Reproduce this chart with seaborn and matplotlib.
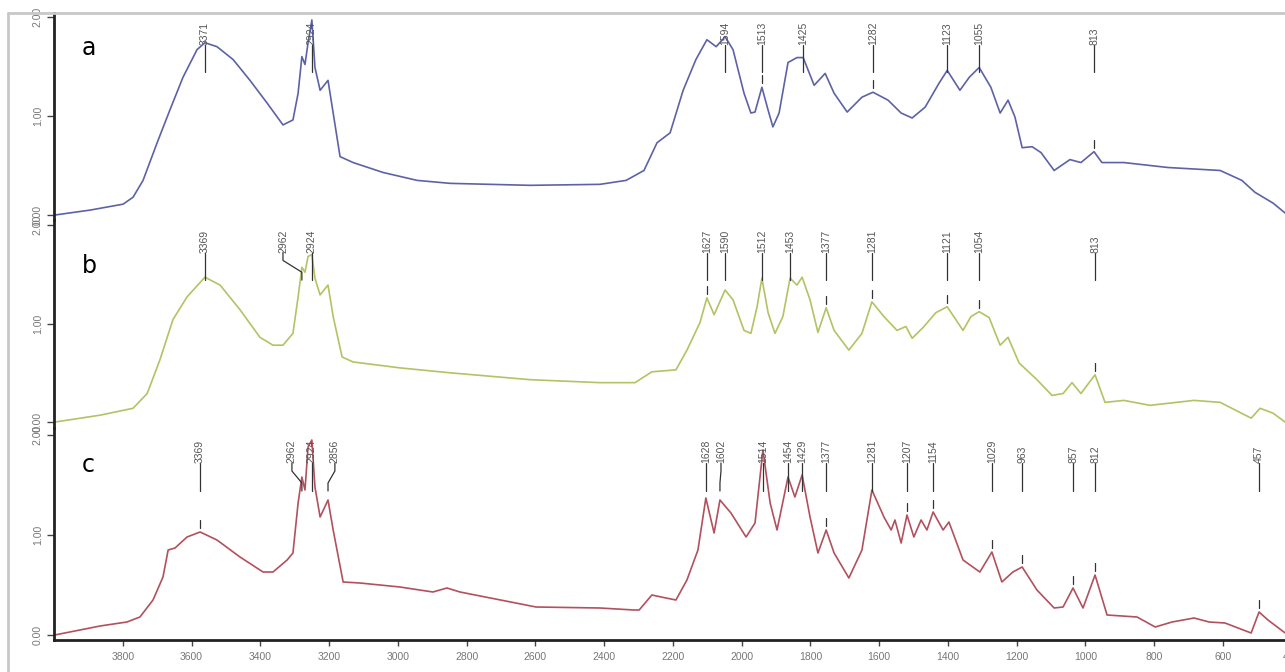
import matplotlib
matplotlib.use("Agg")
import matplotlib.pyplot as plt
import seaborn as sns
from matplotlib.lines import Line2D

# ---------------- data ----------------
a_wn = [3998, 3895, 3799, 3770, 3741, 3700, 3663, 3625, 3584, 3561, 3526, 3479, 3430, 3380, 3334,
        3305, 3290, 3279, 3270, 3261, 3250, 3241, 3226, 3203, 3188, 3168, 3130, 3043, 2944, 2848,
        2615, 2412, 2336, 2284, 2246, 2208, 2170, 2133, 2101, 2074, 2048, 2025, 1993, 1973, 1961,
        1941, 1923, 1909, 1891, 1865, 1839, 1821, 1789, 1757, 1731, 1693, 1650, 1618, 1574, 1536,
        1504, 1466, 1426, 1402, 1365, 1338, 1309, 1275, 1248, 1225, 1205, 1184, 1155, 1129, 1091,
        1045, 1013, 975, 952, 888, 760, 608, 545, 507, 454, 419]
a_abs = [0.00, 0.05, 0.11, 0.18, 0.35, 0.73, 1.06, 1.39, 1.67, 1.74, 1.70, 1.57, 1.36, 1.13, 0.91,
         0.96, 1.23, 1.60, 1.52, 1.74, 1.97, 1.49, 1.26, 1.36, 1.03, 0.59, 0.53, 0.43, 0.35, 0.32,
         0.30, 0.31, 0.35, 0.45, 0.73, 0.83, 1.26, 1.57, 1.77, 1.70, 1.80, 1.67, 1.23, 1.03, 1.04,
         1.29, 1.06, 0.89, 1.03, 1.54, 1.59, 1.59, 1.31, 1.43, 1.23, 1.04, 1.19, 1.24, 1.16, 1.03,
         0.98, 1.09, 1.33, 1.46, 1.26, 1.39, 1.49, 1.29, 1.03, 1.16, 0.99, 0.68, 0.69, 0.63, 0.45,
         0.56, 0.53, 0.64, 0.53, 0.53, 0.48, 0.45, 0.35, 0.23, 0.12, 0.02]

b_wn = [3998, 3866, 3770, 3729, 3692, 3654, 3613, 3561, 3517, 3459, 3401, 3363, 3334, 3305, 3290,
        3279, 3270, 3261, 3250, 3241, 3226, 3203, 3188, 3162, 3130, 2994, 2848, 2615, 2412, 2310,
        2261, 2191, 2159, 2121, 2101, 2080, 2048, 2025, 1993, 1973, 1955, 1941, 1923, 1903, 1880,
        1859, 1839, 1824, 1801, 1778, 1754, 1731, 1688, 1650, 1621, 1586, 1548, 1522, 1504, 1472,
        1435, 1402, 1356, 1333, 1309, 1280, 1248, 1225, 1193, 1141, 1097, 1065, 1039, 1013, 972,
        943, 888, 812, 684, 608, 518, 492, 454, 419]
b_abs = [0.00, 0.07, 0.14, 0.29, 0.63, 1.04, 1.27, 1.47, 1.39, 1.14, 0.86, 0.78, 0.78, 0.90, 1.27,
         1.57, 1.52, 1.68, 1.70, 1.46, 1.29, 1.39, 1.07, 0.66, 0.61, 0.55, 0.50, 0.43, 0.40, 0.40,
         0.51, 0.53, 0.73, 1.01, 1.26, 1.09, 1.34, 1.24, 0.93, 0.90, 1.17, 1.46, 1.11, 0.90, 1.07,
         1.46, 1.39, 1.47, 1.24, 0.91, 1.16, 0.93, 0.73, 0.90, 1.22, 1.07, 0.93, 0.97, 0.85, 0.96,
         1.11, 1.17, 0.93, 1.07, 1.12, 1.06, 0.78, 0.86, 0.60, 0.43, 0.27, 0.29, 0.40, 0.29, 0.48,
         0.20, 0.22, 0.17, 0.22, 0.20, 0.04, 0.14, 0.09, 0.00]

c_wn = [3998, 3866, 3788, 3750, 3712, 3683, 3668, 3648, 3613, 3575, 3526, 3459, 3392, 3363, 3322,
        3305, 3290, 3279, 3270, 3261, 3250, 3241, 3226, 3203, 3188, 3159, 3110, 2994, 2898, 2857,
        2819, 2598, 2412, 2313, 2298, 2261, 2220, 2191, 2159, 2127, 2104, 2080, 2063, 2031, 1987,
        1961, 1938, 1917, 1897, 1865, 1845, 1824, 1801, 1778, 1754, 1731, 1688, 1650, 1621, 1586,
        1565, 1554, 1536, 1519, 1499, 1478, 1461, 1443, 1414, 1397, 1356, 1307, 1272, 1243, 1211,
        1184, 1141, 1091, 1065, 1036, 1007, 972, 937, 850, 797, 748, 684, 640, 594, 518, 495, 469, 419]
c_abs = [0.00, 0.09, 0.13, 0.18, 0.35, 0.58, 0.85, 0.87, 0.98, 1.03, 0.95, 0.78, 0.63, 0.63, 0.75,
         0.82, 1.32, 1.58, 1.45, 1.88, 1.95, 1.48, 1.18, 1.35, 1.05, 0.53, 0.52, 0.48, 0.43, 0.47,
         0.43, 0.28, 0.27, 0.25, 0.25, 0.40, 0.37, 0.35, 0.55, 0.85, 1.37, 1.02, 1.35, 1.22, 0.98,
         1.12, 1.85, 1.32, 1.05, 1.58, 1.38, 1.60, 1.18, 0.82, 1.05, 0.82, 0.57, 0.85, 1.45, 1.18,
         1.05, 1.15, 0.92, 1.20, 0.98, 1.15, 1.05, 1.23, 1.05, 1.13, 0.75, 0.63, 0.83, 0.53, 0.63,
         0.68, 0.45, 0.27, 0.28, 0.47, 0.27, 0.60, 0.20, 0.18, 0.08, 0.13, 0.17, 0.13, 0.12, 0.02,
         0.23, 0.15, 0.02]

# peak annotations: text, text position, peak position, peak height
a_peak_text = ["3371", "2924", "1594", "1513", "1425", "1282", "1123", "1055", "813"]
a_peak_text_wn = [3561, 3250, 2048, 1941, 1821, 1618, 1402, 1309, 975]
a_peak_wn = [3561, 3250, 2048, 1941, 1821, 1618, 1402, 1309, 975]
a_peak_abs = [1.74, 1.97, 1.80, 1.29, 1.59, 1.24, 1.46, 1.49, 0.64]

b_peak_text = ["3369", "2962", "2924", "1627", "1590", "1512", "1453", "1377", "1281", "1121", "1054", "813"]
b_peak_text_wn = [3561, 3334, 3250, 2101, 2048, 1941, 1859, 1754, 1621, 1402, 1309, 972]
b_peak_wn = [3561, 3279, 3250, 2101, 2048, 1941, 1859, 1754, 1621, 1402, 1309, 972]
b_peak_abs = [1.47, 1.57, 1.70, 1.26, 1.34, 1.46, 1.46, 1.16, 1.22, 1.17, 1.12, 0.48]

c_peak_text = ["3369", "2962", "2924", "2856", "1628", "1602", "1514", "1454", "1429", "1377", "1281",
               "1207", "1154", "1029", "963", "857", "812", "457"]
c_peak_text_wn = [3575, 3308, 3250, 3183, 2104, 2060, 1938, 1865, 1824, 1754, 1621, 1519, 1443,
                  1272, 1184, 1036, 972, 495]
c_peak_wn = [3575, 3279, 3250, 3203, 2104, 2063, 1938, 1865, 1824, 1754, 1621, 1519, 1443, 1272,
             1184, 1036, 972, 495]
c_peak_abs = [1.03, 1.58, 1.95, 1.35, 1.37, 1.35, 1.85, 1.58, 1.60, 1.05, 1.45, 1.20, 1.23, 0.83,
              0.68, 0.47, 0.60, 0.23]

panel_letters = ["a", "b", "c"]
y_ticks = [0, 1, 2]
y_tick_labels = ["0.00", "1.00", "2.00"]
x_ticks = [3800, 3600, 3400, 3200, 3000, 2800, 2600, 2400, 2200, 2000, 1800, 1600, 1400, 1200, 1000, 800, 600, 400]
x_tick_labels = [str(t) for t in x_ticks]

colors = ["#5d62a6", "#b4c264", "#b2505e"]

# ---------------- figure ----------------
sns.set_theme(style="white")
plt.rcParams['font.family'] = ['Liberation Sans', 'DejaVu Sans']

W, H = 1285, 672
fig = plt.figure(figsize=(W / 100, H / 100), dpi=100)

# gray outer frame (top and left edges visible)
fig.add_artist(Line2D([8 / W, 8 / W], [0, 1 - 13 / H], color="#c8c8c8", lw=2, transform=fig.transFigure))
fig.add_artist(Line2D([8 / W, 1], [1 - 13 / H, 1 - 13 / H], color="#c8c8c8", lw=2, transform=fig.transFigure))

# panel layout: (top px, bottom px, y-lim low, y-lim high)
layout = [(13, 220, -0.05, 2.04), (220, 428, -0.06, 2.05), (428, 640, -0.05, 2.07)]
letter_base = [55, 273, 472]

series = [
    (a_wn, a_abs, a_peak_text, a_peak_text_wn, a_peak_wn, a_peak_abs),
    (b_wn, b_abs, b_peak_text, b_peak_text_wn, b_peak_wn, b_peak_abs),
    (c_wn, c_abs, c_peak_text, c_peak_text_wn, c_peak_wn, c_peak_abs),
]

left_px = 54
axis_w_px = 1237.7
for i, (wn, ab, ptxt, ptwn, pwn, pab) in enumerate(series):
    top, bot, ylo, yhi = layout[i]
    ax = fig.add_axes([left_px / W, 1 - bot / H, axis_w_px / W, (bot - top) / H])
    ax.patch.set_alpha(0)
    sns.lineplot(x=wn, y=ab, ax=ax, color=colors[i], lw=1.2, estimator=None, sort=False)
    ax.set_xlim(4000, 400)
    ax.set_ylim(ylo, yhi)
    ax.set_xlabel("")
    ax.set_ylabel("")
    for s in ["top", "right"]:
        ax.spines[s].set_visible(False)
    ax.spines["left"].set_color("#222222")
    ax.spines["left"].set_linewidth(2)
    ax.set_yticks(y_ticks)
    ax.set_yticklabels(y_tick_labels, rotation=90, va="center", fontsize=7.5, color="#777777")
    ax.tick_params(axis="y", left=True, length=5, width=1, color="#444444", pad=3)
    if i < 2:
        ax.spines["bottom"].set_visible(False)
        ax.tick_params(axis="x", bottom=False, labelbottom=False)
    else:
        ax.spines["bottom"].set_color("#222222")
        ax.spines["bottom"].set_linewidth(2)
        ax.set_xticks(x_ticks)
        ax.set_xticklabels(x_tick_labels, fontsize=7.5, color="#777777")
        ax.tick_params(axis="x", bottom=True, length=4, width=1, color="#444444", pad=5)

    # peak labels
    tb = 1.72
    line_end = tb - 0.28
    for t, tx, px, py in zip(ptxt, ptwn, pwn, pab):
        ax.text(tx, tb, t, rotation=90, ha="center", va="bottom", fontsize=7.5, color="#555555")
        if tx == px:
            ax.plot([px, px], [tb, line_end], color="#333333", lw=0.9)
        else:
            ax.plot([tx, tx, px, px], [tb, tb - 0.08, tb - 0.2, line_end], color="#333333", lw=0.9)
        if py + 0.12 < line_end:
            ax.plot([px, px], [py + 0.04, py + 0.12], color="#333333", lw=0.9)

    fig.text(82 / W, 1 - letter_base[i] / H, panel_letters[i], fontsize=17, color="black",
             ha="left", va="baseline", family="DejaVu Sans")

fig.savefig("out.png", dpi=100)
